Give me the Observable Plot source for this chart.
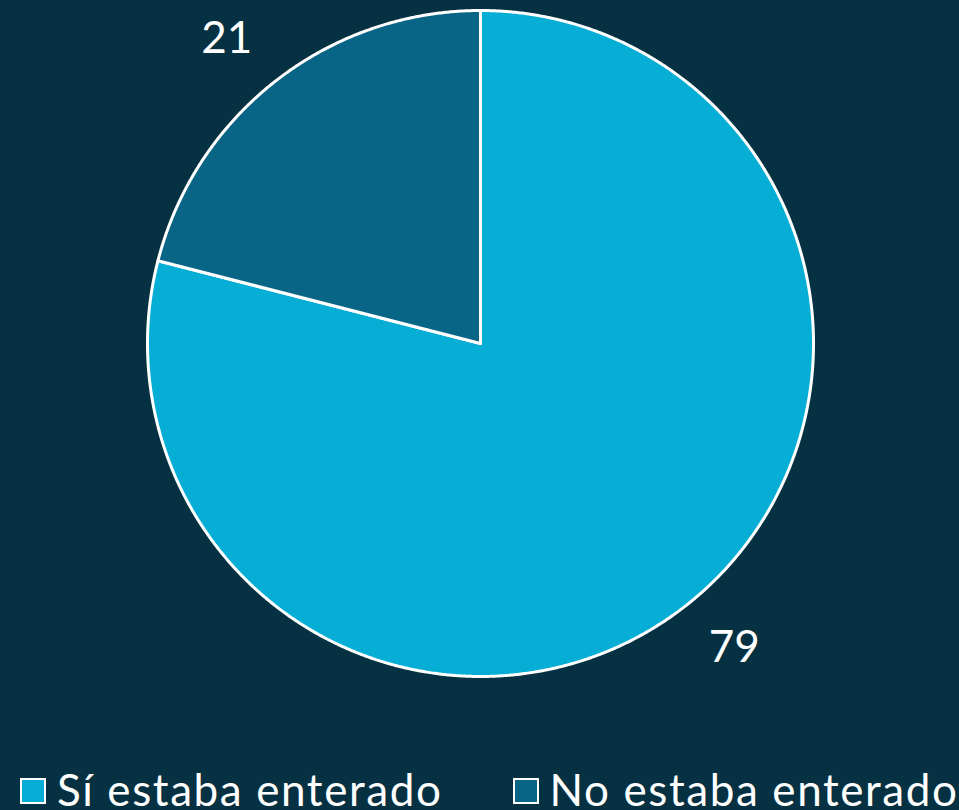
<!DOCTYPE html>
<html>
<head>
<meta charset="utf-8">
<script src="https://cdn.jsdelivr.net/npm/d3@7"></script>
<script src="https://cdn.jsdelivr.net/npm/@observablehq/plot@0.6"></script>
<style>
  html, body { margin: 0; padding: 0; background: #063142; width: 959px; height: 810px; overflow: hidden; }
  #legend { display: flex; position: absolute; top: 764px; left: 20px; width: max-content; white-space: nowrap; font-family: Lato, "Open Sans", sans-serif; font-size: 44px; letter-spacing: 1.6px; color: #fff; line-height: 50px; }
  .item { display: flex; align-items: center; margin-right: 70px; flex-shrink: 0; white-space: nowrap; }
  .sw { width: 22px; height: 22px; border: 2px solid #fff; margin-right: 11px; margin-top: 4px; flex-shrink: 0; }
</style>
</head>
<body>
<div id="chart"></div>
<div id="legend"></div>
<script>
const categories = ["Sí estaba enterado", "No estaba enterado"];
const values = [79, 21];
const colors = ["#06aed5", "#086586"];

const pie = d3.pie().sort(null).value(d => d.value)(categories.map((c, i) => ({category: c, value: values[i]})));

// arc outline points (geometry from the pie angles)
const pts = [];
pie.forEach(s => {
  pts.push({category: s.data.category, x: 0, y: 0});
  const n = Math.max(2, Math.ceil((s.endAngle - s.startAngle) / 0.005));
  for (let k = 0; k <= n; k++) {
    const a = s.startAngle + (s.endAngle - s.startAngle) * k / n;
    pts.push({category: s.data.category, x: Math.sin(a), y: Math.cos(a)});
  }
  pts.push({category: s.data.category, x: 0, y: 0});
});
const labels = pie.map(s => {
  const a = (s.startAngle + s.endAngle) / 2 - 0.035;
  return {text: String(s.data.value), x: 1.19 * Math.sin(a), y: 1.19 * Math.cos(a)};
});

const plot = Plot.plot({
  width: 959,
  height: 740,
  marginLeft: 147, marginRight: 146, marginTop: 10, marginBottom: 64,
  x: {domain: [-1, 1], axis: null},
  y: {domain: [-1, 1], axis: null},
  color: {domain: categories, range: colors},
  style: {background: "#063142", overflow: "visible"},
  marks: [
    Plot.line(pts, {x: "x", y: "y", z: "category", fill: "category", stroke: "#fff", strokeWidth: 3, strokeLinejoin: "round"}),
    Plot.text(labels, {x: "x", y: "y", text: "text", fill: "#fff", fontSize: 44, fontFamily: "Lato, 'Open Sans', sans-serif", style: "letter-spacing:1.5px"})
  ]
});
document.getElementById("chart").appendChild(plot);

const leg = document.getElementById("legend");
categories.forEach((c, i) => {
  const it = document.createElement("div"); it.className = "item";
  const sw = document.createElement("div"); sw.className = "sw"; sw.style.background = colors[i];
  const t = document.createElement("span"); t.textContent = c;
  it.appendChild(sw); it.appendChild(t); leg.appendChild(it);
});
</script>
</body>
</html>
